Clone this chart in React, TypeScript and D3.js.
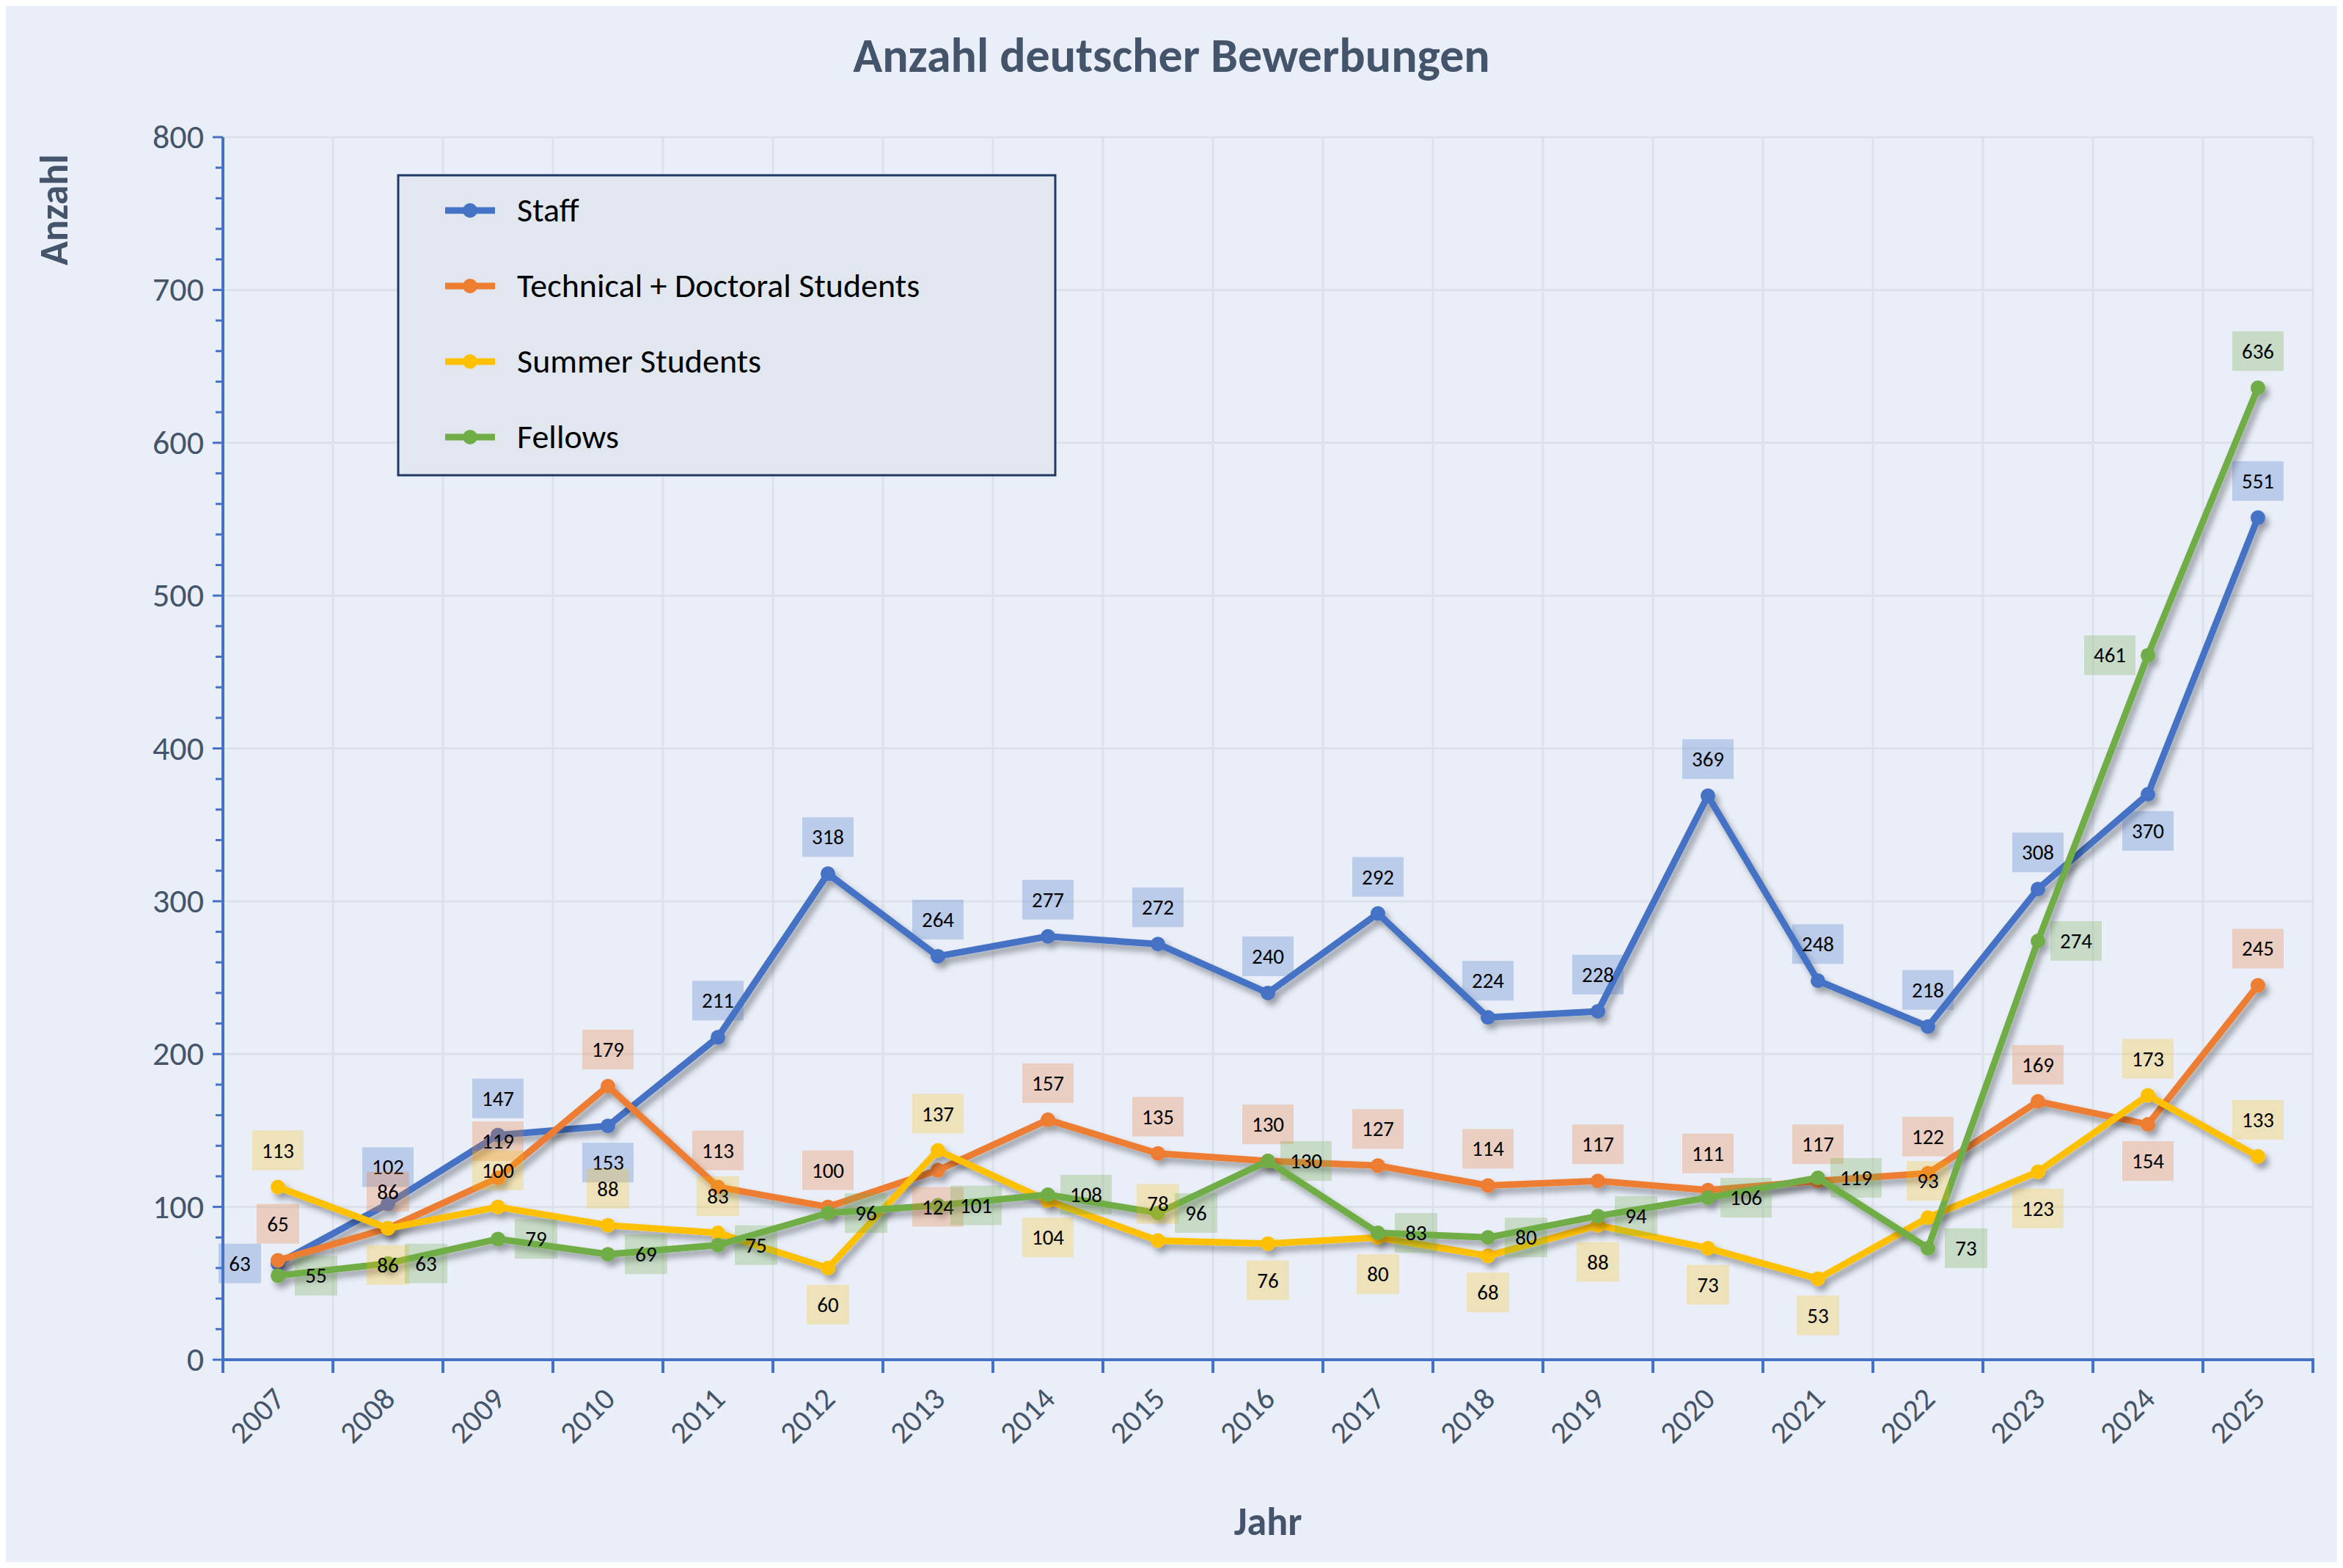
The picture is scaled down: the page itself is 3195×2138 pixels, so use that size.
import React from "react";
import * as d3 from "d3";

const years = ["2007","2008","2009","2010","2011","2012","2013","2014","2015","2016","2017","2018","2019","2020","2021","2022","2023","2024","2025"];
const staff = [63,102,147,153,211,318,264,277,272,240,292,224,228,369,248,218,308,370,551];
const technical = [65,86,119,179,113,100,124,157,135,130,127,114,117,111,117,122,169,154,245];
const summer = [113,86,100,88,83,60,137,104,78,76,80,68,88,73,53,93,123,173,133];
const fellows = [55,63,79,69,75,96,101,108,96,130,83,80,94,106,119,73,274,461,636];

// label placement per point: a=above, b=below, l=left, r=right
const staffPos = "laaba aaaaaaaaaaaba".replace(" ", "a").split("");
const techPos = "aaaaaabaaaaaaaaaaba".split("");
const summerPos = "abaaabababbbbbbabaa".split("");
const fellowsPos = "rrrrrrrrrrrrrrrrrla".split("");

const series = [
  { name: "Staff", values: staff, pos: staffPos, color: "#4472c4", box: "rgba(68,114,196,0.28)" },
  { name: "Technical + Doctoral Students", values: technical, pos: techPos, color: "#ed7d31", box: "rgba(237,125,49,0.28)" },
  { name: "Summer Students", values: summer, pos: summerPos, color: "#ffc000", box: "rgba(255,192,0,0.25)" },
  { name: "Fellows", values: fellows, pos: fellowsPos, color: "#70ad47", box: "rgba(112,173,71,0.28)" },
];

const W = 3195, H = 2138;
const m = { left: 304, right: 3154, top: 187, bottom: 1854 };

export default function App() {
  const x = d3.scaleBand().domain(years).range([m.left, m.right]);
  const y = d3.scaleLinear().domain([0, 800]).range([m.bottom, m.top]);
  const line = d3.line<number>().x((_, i) => x(years[i])! + x.bandwidth() / 2).y(d => y(d));
  const axisColor = "#4472c4";
  const textColor = "#44546a";
  const majors = d3.range(0, 801, 100);
  const minors = d3.range(0, 801, 20);
  const bw = 62, bh = 46;

  return (
    <svg width={W} height={H} style={{ display: "block", margin: -8 }} fontFamily="Calibri, Carlito, 'Open Sans', sans-serif">
      <defs>
        <filter id="sh" x="-5%" y="-5%" width="110%" height="110%">
          <feDropShadow dx="5" dy="7" stdDeviation="4" floodColor="#000" floodOpacity="0.35" />
        </filter>
      </defs>
      <rect width={W} height={H} fill="#e9eef8" />
      <text x={W / 2} y={98} textAnchor="middle" fontSize={66} fontWeight="bold" fill={textColor}>Anzahl deutscher Bewerbungen</text>
      {/* grid */}
      {majors.slice(1).map(v => (
        <line key={v} x1={m.left} x2={m.right} y1={y(v)} y2={y(v)} stroke="#dde2ea" strokeWidth={3} />
      ))}
      {years.slice(1).concat(["end"]).map((yr, i) => {
        const xx = m.left + (i + 1) * x.step();
        return <line key={yr} x1={xx} x2={xx} y1={m.top} y2={m.bottom} stroke="#dde2ea" strokeWidth={3} />;
      })}
      {/* axes */}
      <line x1={m.left} x2={m.left} y1={m.top} y2={m.bottom} stroke={axisColor} strokeWidth={4} />
      <line x1={m.left - 2} x2={m.right + 2} y1={m.bottom} y2={m.bottom} stroke={axisColor} strokeWidth={4} />
      {minors.map(v => (
        <line key={v} x1={m.left - (v % 100 === 0 ? 14 : 10)} x2={m.left} y1={y(v)} y2={y(v)} stroke={axisColor} strokeWidth={3} />
      ))}
      {majors.map(v => (
        <text key={v} x={m.left - 26} y={y(v) + 15} textAnchor="end" fontSize={46} fill={textColor}>{v}</text>
      ))}
      {d3.range(years.length + 1).map(i => {
        const xx = m.left + i * x.step();
        return <line key={i} x1={xx} x2={xx} y1={m.bottom} y2={m.bottom + 18} stroke={axisColor} strokeWidth={4} />;
      })}
      {years.map(yr => {
        const cx = x(yr)! + x.bandwidth() / 2;
        return (
          <text key={yr} transform={`translate(${cx + 12},${m.bottom + 56}) rotate(-45)`} textAnchor="end" fontSize={42} fill={textColor}>{yr}</text>
        );
      })}
      <text x={(m.left + m.right) / 2} y={2093} textAnchor="middle" fontSize={54} fontWeight="bold" fill={textColor}>Jahr</text>
      <text transform={`translate(92,286) rotate(-90)`} textAnchor="middle" fontSize={54} fontWeight="bold" fill={textColor}>Anzahl</text>
      {/* lines */}
      {series.map(s => (
        <g key={s.name} filter="url(#sh)">
          <path d={line(s.values)!} fill="none" stroke={s.color} strokeWidth={9} strokeLinejoin="round" />
          {s.values.map((v, i) => (
            <circle key={i} cx={x(years[i])! + x.bandwidth() / 2} cy={y(v)} r={10} fill={s.color} />
          ))}
        </g>
      ))}
      {/* labels */}
      {series.map(s => (
        <g key={s.name + "l"}>
          {s.values.map((v, i) => {
            const cx = x(years[i])! + x.bandwidth() / 2;
            const cy = y(v);
            const p = s.pos[i];
            let lx = cx, ly = cy;
            if (p === "a") ly = cy - 50;
            else if (p === "b") ly = cy + 50;
            else if (p === "l") lx = cx - 52;
            else lx = cx + 52;
            const w = String(v).length >= 3 ? bw : 50;
            return (
              <g key={i}>
                <rect x={lx - w / 2 - 4} y={ly - bh / 2 - 4} width={w + 8} height={bh + 8} fill={s.box} />
                <text x={lx} y={ly + 10} textAnchor="middle" fontSize={29} fill="#000">{v}</text>
              </g>
            );
          })}
        </g>
      ))}
      {/* legend */}
      <rect x={543} y={239} width={896} height={409} fill="#e2e7ef" stroke="#1f3864" strokeWidth={3} />
      {series.map((s, i) => {
        const ly = 287 + i * 103;
        return (
          <g key={s.name + "g"}>
            <line x1={607} x2={675} y1={ly} y2={ly} stroke={s.color} strokeWidth={9} />
            <circle cx={641} cy={ly} r={10} fill={s.color} />
            <text x={705} y={ly + 15} fontSize={46} fill="#000">{s.name}</text>
          </g>
        );
      })}
    </svg>
  );
}
